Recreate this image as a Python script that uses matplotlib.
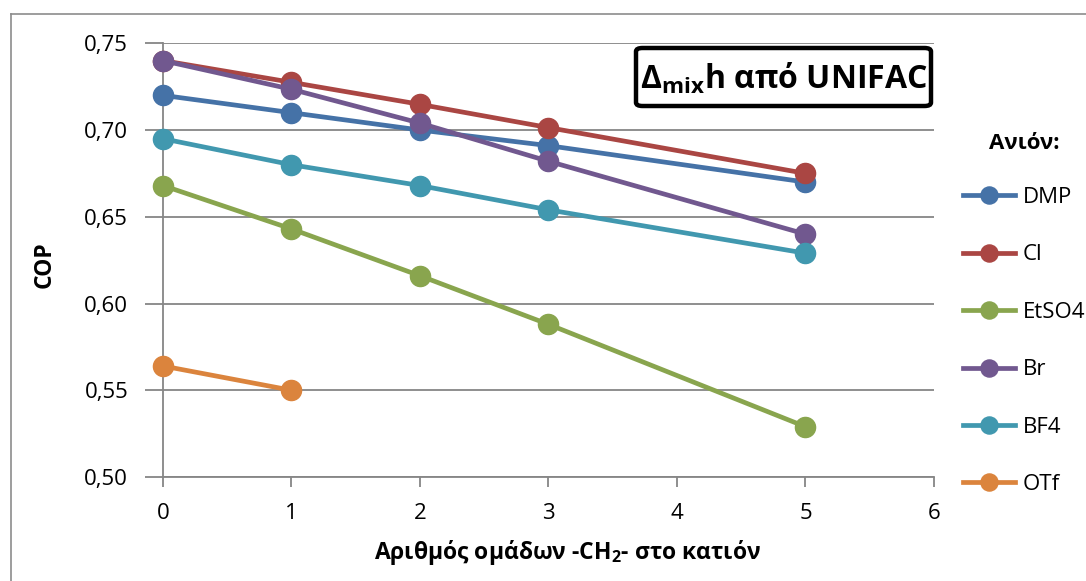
import numpy as np
import matplotlib
matplotlib.use('Agg')
import matplotlib.pyplot as plt
from matplotlib.lines import Line2D
from matplotlib.patches import FancyBboxPatch

# number of -CH2- groups in the cation
x_full = [0, 1, 2, 3, 5]
x_otf = [0, 1]

# COP per anion
cop_dmp = [0.720, 0.710, 0.700, 0.691, 0.670]
cop_cl = [0.740, 0.7275, 0.7148, 0.7014, 0.675]
cop_etso4 = [0.668, 0.643, 0.616, 0.588, 0.529]
cop_br = [0.740, 0.7235, 0.704, 0.682, 0.640]
cop_bf4 = [0.695, 0.680, 0.668, 0.654, 0.629]
cop_otf = [0.564, 0.550]

y_ticks = [0.50, 0.55, 0.60, 0.65, 0.70, 0.75]
x_ticks = [0, 1, 2, 3, 4, 5, 6]

plt.rcParams.update({
    "font.family": ["Open Sans", "DejaVu Sans"],
    "mathtext.default": "regular",
})

W, H = 1086, 581
fig = plt.figure(figsize=(W / 100, H / 100), dpi=100)
ax = fig.add_axes([0.150, 0.179, 0.710, 0.7465])

series = [
    ('DMP', x_full, cop_dmp, '#4572A7'),
    ('Cl', x_full, cop_cl, '#AA4643'),
    ('EtSO4', x_full, cop_etso4, '#89A54E'),
    ('Br', x_full, cop_br, '#71588F'),
    ('BF4', x_full, cop_bf4, '#4198AF'),
    ('OTf', x_otf, cop_otf, '#DB843D'),
]
for name, xs, ys, c in series:
    ax.plot(xs, ys, color=c, lw=3.4, marker='o', ms=14.5, mec=c, label=name,
            clip_on=False, zorder=3)

ax.set_xlim(0, 6)
ax.set_ylim(0.50, 0.75)
ax.set_xticks(x_ticks)
ax.set_yticks(y_ticks)
ax.set_yticklabels([f'{v:.2f}'.replace('.', ',') for v in y_ticks])
ax.tick_params(axis='both', labelsize=16, color='#868686', width=1.3,
               direction='out')
ax.tick_params(axis='y', length=13, pad=12)
ax.tick_params(axis='x', length=7, pad=12)
ax.grid(axis='y', color='#868686', lw=1.3)
for s in ['top', 'right']:
    ax.spines[s].set_visible(False)
for s in ['left', 'bottom']:
    ax.spines[s].set_color('#868686')
    ax.spines[s].set_linewidth(1.3)

# axis titles
fig.text(0.0415, 0.545, 'COP', rotation=90, ha='center', va='center',
         fontsize=16.5, fontweight='bold')
fig.text(0.523, 1 - 559 / H, 'Αριθμός ομάδων -CH$_2$- στο κατιόν',
         ha='center', va='baseline', fontsize=16.5, fontweight='bold')

leg = ax.legend(loc='upper left', bbox_to_anchor=(0.868, 0.806),
                bbox_transform=fig.transFigure, frameon=False,
                title='Ανιόν:', fontsize=16, labelspacing=1.64,
                handlelength=2.34, handletextpad=0.36, markerscale=0.85)
leg.get_title().set_fontweight('bold')
leg.get_title().set_fontsize(16)
leg._legend_box.sep = 24

# label box in the upper right of the plot
box_x0, box_x1, box_y0, box_y1 = 636, 931, 48, 106
fig.add_artist(FancyBboxPatch((box_x0 / W, 1 - box_y1 / H),
                              (box_x1 - box_x0) / W, (box_y1 - box_y0) / H,
                              boxstyle='round,pad=0,rounding_size=0.006',
                              transform=fig.transFigure, fc='white',
                              ec='black', lw=3.2, zorder=5))
fig.text((box_x0 + box_x1) / 2 / W, 1 - 79 / H, 'Δ$_{mix}$h από UNIFAC',
         ha='center', va='center', fontsize=23, fontweight='bold', zorder=6)

# outer chart frame
fig.add_artist(Line2D([0.0101, 0.0101], [0, 0.976], color='#8c8c8c', lw=1.2))
fig.add_artist(Line2D([0.0101, 1.0], [0.976, 0.976], color='#8c8c8c', lw=1.2))

fig.savefig('out.png', dpi=100)
